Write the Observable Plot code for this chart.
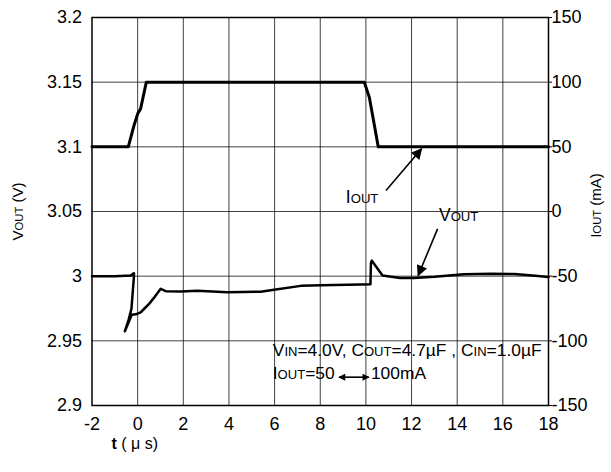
<!DOCTYPE html>
<html>
<head>
<meta charset="utf-8">
<script src="https://cdn.jsdelivr.net/npm/d3@7"></script>
<script src="https://cdn.jsdelivr.net/npm/@observablehq/plot@0.6"></script>
<style>
  body { margin: 0; background: #fff; }
</style>
</head>
<body>
<div id="chart"></div>
<script>
// ---- data ----
const xTicks = [-2, 0, 2, 4, 6, 8, 10, 12, 14, 16, 18];
const vTicks = [2.9, 2.95, 3.0, 3.05, 3.1, 3.15, 3.2];
const iTicks = [-150, -100, -50, 0, 50, 100, 150];

// IOUT (mA) vs t (µs)
const ioutT  = [-2, -0.41, -0.16, 0, 0.13, 0.38, 9.93, 10.15, 10.36, 10.54, 18];
const ioutMA = [50, 50, 66.5, 75.5, 79.4, 100, 100, 88.4, 67.8, 50, 50];

// VOUT (V) vs t (µs) — scope trace, kept in drawing order
const voutT = [-2, -1, -0.3, -0.2, -0.16, -0.17, -0.27, -0.4, -0.56, -0.26, -0.08, 0.13, 0.3, 0.5, 0.75, 1.01, 1.23, 1.89, 2.62, 3.93, 5.39, 6.05, 7.15, 8.03, 9.78, 10.2, 10.22, 10.26, 10.73, 11.5, 12.1, 13, 14.3, 15.5, 16.5, 17.3, 18];
const voutV = [3.0, 3.0, 3.0005, 3.002, 3.0023, 2.998, 2.975, 2.966, 2.9574, 2.9702, 2.9705, 2.972, 2.975, 2.9786, 2.984, 2.9902, 2.9884, 2.9881, 2.9887, 2.9875, 2.988, 2.9897, 2.9925, 2.993, 2.9936, 2.9937, 3.01, 3.012, 3.0005, 2.9985, 2.9985, 2.9995, 3.0015, 3.0018, 3.0016, 3.0005, 2.9993];

// annotations (data coordinates)
const labelText = ["I{OUT}", "V{OUT}"];
const labelT = [9.12, 13.2];
const labelV = [3.0608, 3.0469];

const pointerT1 = [10.88, 13.14];
const pointerV1 = [3.0662, 3.0366];
const pointerT2 = [12.44, 12.29];
const pointerV2 = [3.0985, 3.0005];

const noteText = ["V{IN}=4.0V, C{OUT}=4.7µF , C{IN}=1.0µF", "I{OUT}=50", "100mA"];
const noteT = [5.92, 5.92, 10.22];
const noteV = [2.9425, 2.9247, 2.9247];

const dblT1 = [8.82];
const dblT2 = [10.13];
const dblV = [2.9219];

// ---- build tables ----
const iout = ioutT.map((t, k) => ({t, i: ioutMA[k]}));
const vout = voutT.map((t, k) => ({t, v: voutV[k]}));
const labels = labelText.map((s, k) => ({s, t: labelT[k], v: labelV[k]}));
const pointers = pointerT1.map((t, k) => ({t1: t, v1: pointerV1[k], t2: pointerT2[k], v2: pointerV2[k]}));
const notes = noteText.map((s, k) => ({s, t: noteT[k], v: noteV[k]}));
const dbl = dblT1.map((t, k) => ({t1: t, t2: dblT2[k], v: dblV[k]}));
const iToV = i => 3.05 + i / 1000;

const grid = {stroke: "#000", strokeOpacity: 0.75, strokeWidth: 1};

const chart = Plot.plot({
  width: 611,
  height: 472,
  marginTop: 17,
  marginBottom: 67,
  marginLeft: 91.5,
  marginRight: 63,
  x: {domain: [-2, 18]},
  y: {domain: [2.9, 3.2]},
  style: {fontFamily: "'Liberation Sans', Arial, sans-serif", fontSize: "18px", background: "#fff", color: "#000"},
  marks: [
    Plot.ruleX(xTicks.slice(1, -1), grid),
    Plot.ruleY(vTicks.slice(1, -1), grid),
    Plot.frame({stroke: "#000", strokeWidth: 1.5}),
    Plot.axisX({ticks: xTicks, tickSize: 0, tickPadding: 12, tickFormat: d => String(d), label: null}),
    Plot.axisY({anchor: "left", ticks: vTicks, tickSize: 0, tickPadding: 10, tickFormat: d => String(+d.toFixed(2)), label: null}),
    Plot.axisY({anchor: "right", ticks: iTicks.map(iToV), tickSize: 3, tickPadding: 0, tickFormat: v => String(Math.round((v - 3.05) * 1000)), label: null}),
    Plot.line(iout, {x: "t", y: d => iToV(d.i), stroke: "#000", strokeWidth: 3}),
    Plot.line(vout, {x: "t", y: "v", stroke: "#000", strokeWidth: 2.5}),
    Plot.link(pointers, {x1: "t1", y1: "v1", x2: "t2", y2: "v2", stroke: "#010101", strokeWidth: 1.6}),
    Plot.link(dbl, {x1: "t1", y1: "v", x2: "t2", y2: "v", stroke: "#020202", strokeWidth: 1.6}),
    Plot.text(labels, {x: "t", y: "v", text: "s", textAnchor: "start", fontSize: 17.5, fill: "#000"}),
    Plot.text(notes, {x: "t", y: "v", text: "s", textAnchor: "start", fontSize: 17.4, fill: "#000"}),
    Plot.text(["V{OUT} (V)"], {frameAnchor: "left", dx: -73.5, rotate: -90, textAnchor: "middle", fontSize: 15, fill: "#000"}),
    Plot.text(["I{OUT} (mA)"], {frameAnchor: "right", dx: 48, dy: -6, rotate: -90, textAnchor: "middle", fontSize: 15, fill: "#000"}),
    Plot.text(["*t* ( μ s)"], {frameAnchor: "bottom-left", dx: 19.5, dy: 43, textAnchor: "start", fontSize: 16, fill: "#000"})
  ]
});

document.getElementById("chart").appendChild(chart);

// ---- post-processing: small caps subscripts, bold, arrowheads ----
const svgEl = chart.tagName.toLowerCase() === "svg" ? chart : chart.querySelector("svg");
const svg = d3.select(svgEl);
svg.selectAll("text").each(function() {
  const el = this;
  const txt = el.textContent;
  if (!/[{*]/.test(txt)) return;
  while (el.firstChild) el.removeChild(el.firstChild);
  let small = false, bold = false, buf = "";
  const flush = () => {
    if (!buf) return;
    const ts = document.createElementNS("http://www.w3.org/2000/svg", "tspan");
    ts.textContent = buf;
    if (small) ts.setAttribute("font-size", "0.75em");
    if (bold) ts.setAttribute("font-weight", "bold");
    el.appendChild(ts);
    buf = "";
  };
  for (const ch of txt) {
    if (ch === "{") { flush(); small = true; }
    else if (ch === "}") { flush(); small = false; }
    else if (ch === "*") { flush(); bold = !bold; }
    else buf += ch;
  }
  flush();
});

const defs = svg.insert("defs", ":first-child");
function addMarker(id, w, h) {
  defs.append("marker").attr("id", id).attr("viewBox", "0 0 10 10")
    .attr("refX", 9).attr("refY", 5).attr("markerUnits", "userSpaceOnUse")
    .attr("markerWidth", w).attr("markerHeight", h).attr("orient", "auto-start-reverse")
    .append("path").attr("d", "M0,0L10,5L0,10Z").attr("fill", "#000");
}
addMarker("triBig", 15, 11);
addMarker("triSmall", 10, 7);
svg.selectAll("[stroke='#010101'] path, path[stroke='#010101']").attr("marker-end", "url(#triBig)");
svg.selectAll("[stroke='#020202'] path, path[stroke='#020202']")
  .attr("marker-start", "url(#triSmall)").attr("marker-end", "url(#triSmall)");
</script>
</body>
</html>
